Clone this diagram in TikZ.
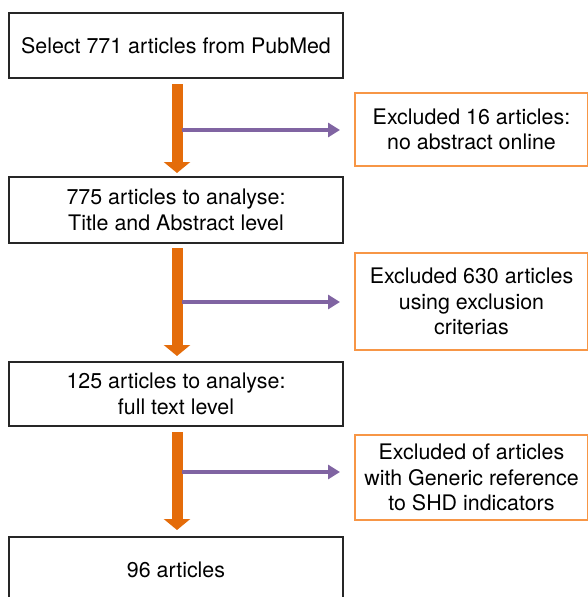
\documentclass[tikz,border=0pt]{standalone}
\usepackage{fontspec}
\setmainfont{TeX Gyre Heros}
\usetikzlibrary{arrows.meta}
\definecolor{arrorange}{HTML}{E46C0A}
\definecolor{arrpurple}{HTML}{8064A2}
\definecolor{exclorange}{HTML}{F79646}
\begin{document}
\begin{tikzpicture}[x=1pt,y=-1pt,
  every node/.style={font=\fontsize{21.4}{25.5}\selectfont, align=center, inner sep=0pt},
  mainbox/.style={draw=black!85, line width=2pt, fill=white, minimum width=334pt},
  exclbox/.style={draw=exclorange, line width=2pt, fill=white, minimum width=233pt},
  downarrow/.style={draw=arrorange, line width=11pt, -{Triangle[width=26pt,length=11pt]}},
  sidearrow/.style={draw=arrpurple, line width=4pt, -{Triangle[width=14pt,length=12pt]}, shorten >=14pt}
]
\useasboundingbox (0,0) rectangle (588,597);
\clip (0,0) rectangle (588,597);

\node[mainbox, minimum height=65pt] (b1) at (176,45.5) {Select 771 articles from PubMed};
\node[mainbox, minimum height=66pt] (b2) at (176,210) {775 articles to analyse:\\Title and Abstract level};
\node[mainbox, minimum height=64pt] (b3) at (176,394) {125 articles to analyse:\\full text level};
\node[mainbox, minimum height=72pt] (b4) at (176,573) {};
\node at (176,570) (b4t) {96 articles};

\node[exclbox, minimum height=73pt] (e1) at (471.5,129.5) {Excluded 16 articles:\\no abstract online};
\node[exclbox, minimum height=97pt] (e2) at (471.5,301.5) {Excluded 630 articles\\using exclusion\\criterias};
\node[exclbox, minimum height=85pt] (e3) at (471.5,477.5) {Excluded of articles\\with Generic reference\\to SHD indicators};

\coordinate (s1) at (177,84);
\coordinate (t1) at (177,173);
\coordinate (s2) at (177,248);
\coordinate (t2) at (177,356);
\coordinate (s3) at (177,432);
\coordinate (t3) at (177,530);

\coordinate (p1) at (182,130);
\coordinate (p2) at (182,302);
\coordinate (p3) at (182,472);

\draw[downarrow] (s1) -- (t1);
\draw[downarrow] (s2) -- (t2);
\draw[downarrow] (s3) -- (t3);

\draw[sidearrow] (p1) -- (p1 -| e1.west);
\draw[sidearrow] (p2) -- (p2 -| e2.west);
\draw[sidearrow] (p3) -- (p3 -| e3.west);
\end{tikzpicture}
\end{document}
